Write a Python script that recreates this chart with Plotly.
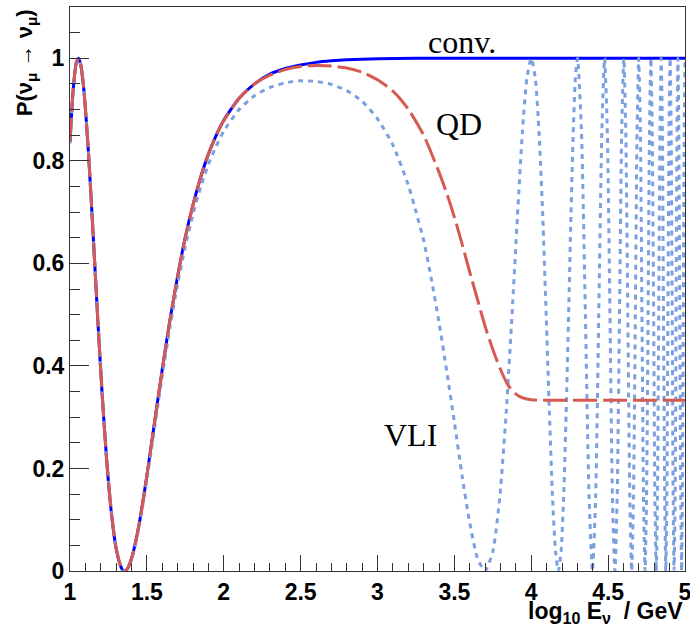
import plotly.graph_objects as go

# ---------------- data ----------------
conv_x = [1.00, 1.02, 1.04, 1.055, 1.07, 1.09, 1.12, 1.15, 1.18, 1.21, 1.24, 1.27,
          1.30, 1.33, 1.343, 1.355, 1.367, 1.38, 1.41, 1.45, 1.50, 1.55, 1.60, 1.65,
          1.70, 1.75, 1.80, 1.85, 1.90, 1.95, 2.00, 2.10, 2.20, 2.30, 2.40, 2.50,
          2.60, 2.70, 2.80, 2.90, 3.00, 3.25, 3.50, 4.00, 4.50, 5.00]
conv_y = [0.837, 0.936, 0.990, 1.000, 0.987, 0.939, 0.816, 0.659, 0.494, 0.340, 0.210, 0.111,
          0.044, 0.009, 0.002, 0.000, 0.002, 0.008, 0.035, 0.092, 0.186, 0.290, 0.393, 0.489,
          0.575, 0.651, 0.714, 0.768, 0.813, 0.849, 0.879, 0.922, 0.950, 0.969, 0.980, 0.987,
          0.992, 0.995, 0.997, 0.998, 0.999, 1.000, 1.000, 1.000, 1.000, 1.000]

qd_x = [1.00, 1.02, 1.04, 1.055, 1.07, 1.09, 1.12, 1.15, 1.18, 1.21, 1.24, 1.27,
        1.30, 1.33, 1.343, 1.355, 1.367, 1.38, 1.41, 1.45, 1.50, 1.55, 1.60, 1.65,
        1.70, 1.75, 1.80, 1.85, 1.90, 1.95, 2.00, 2.10, 2.20, 2.30, 2.40, 2.50,
        2.60, 2.70, 2.80, 2.90, 3.00, 3.10, 3.20, 3.30, 3.40, 3.45, 3.50, 3.55,
        3.60, 3.65, 3.70, 3.75, 3.80, 3.85, 3.90, 3.95, 4.00, 4.10, 4.50, 5.00]
qd_y = [0.837, 0.936, 0.990, 1.000, 0.987, 0.939, 0.816, 0.659, 0.494, 0.340, 0.210, 0.111,
        0.044, 0.009, 0.002, 0.000, 0.002, 0.008, 0.035, 0.092, 0.186, 0.290, 0.393, 0.489,
        0.575, 0.651, 0.714, 0.768, 0.813, 0.849, 0.878, 0.922, 0.950, 0.967, 0.978, 0.984,
        0.986, 0.985, 0.981, 0.973, 0.958, 0.936, 0.901, 0.850, 0.778, 0.737, 0.690, 0.638,
        0.583, 0.530, 0.477, 0.432, 0.393, 0.362, 0.345, 0.337, 0.334, 0.333, 0.333, 0.333]

vli_x = [1.00, 1.02, 1.04, 1.055, 1.07, 1.09, 1.12, 1.15, 1.18, 1.21, 1.24, 1.27,
         1.30, 1.33, 1.343, 1.355, 1.367, 1.38, 1.41, 1.45, 1.50, 1.55, 1.60, 1.65,
         1.70, 1.75, 1.80, 1.85, 1.90, 1.95, 2.00, 2.10, 2.20, 2.30, 2.40, 2.50,
         2.60, 2.70, 2.80, 2.90, 3.00, 3.10, 3.20, 3.25, 3.30, 3.35, 3.40, 3.45,
         3.50, 3.55, 3.60, 3.65,
         3.699, 3.750, 3.796, 3.837, 3.875, 3.910, 3.942, 3.972, 4.000, 4.026, 4.051, 4.075,
         4.097, 4.118, 4.138, 4.158, 4.176, 4.194, 4.211, 4.227, 4.243, 4.258, 4.273, 4.287,
         4.301, 4.327, 4.352, 4.376, 4.398, 4.419, 4.439, 4.459, 4.477, 4.495, 4.512, 4.528,
         4.544, 4.559, 4.574, 4.588, 4.602, 4.615, 4.628, 4.641, 4.653, 4.665, 4.677, 4.688,
         4.699, 4.710, 4.720, 4.730, 4.740, 4.750, 4.760, 4.769, 4.778, 4.787, 4.796, 4.804,
         4.813, 4.821, 4.829, 4.837, 4.845, 4.853, 4.860, 4.868, 4.875, 4.882, 4.889, 4.896,
         4.903, 4.910, 4.917, 4.923, 4.929, 4.936, 4.942, 4.948, 4.954, 4.960, 4.966, 4.972,
         4.978, 4.983, 4.989, 4.995, 5.000]
vli_y = [0.834, 0.934, 0.989, 1.000, 0.988, 0.941, 0.820, 0.663, 0.499, 0.345, 0.215, 0.115,
         0.047, 0.010, 0.002, 0.000, 0.002, 0.006, 0.032, 0.087, 0.178, 0.279, 0.380, 0.475,
         0.560, 0.633, 0.696, 0.749, 0.793, 0.828, 0.858, 0.900, 0.927, 0.943, 0.952, 0.956,
         0.955, 0.949, 0.937, 0.916, 0.882, 0.831, 0.753, 0.701, 0.645, 0.570, 0.485, 0.390,
         0.290, 0.186, 0.094, 0.025,
         0.000, 0.038, 0.146, 0.309, 0.500, 0.691, 0.854, 0.962, 1.000, 0.962, 0.854, 0.691,
         0.500, 0.309, 0.146, 0.038, 0.000, 0.038, 0.146, 0.309, 0.500, 0.691, 0.854, 0.962,
         1.000, 0.854, 0.500, 0.146, 0.000, 0.146, 0.500, 0.854, 1.000, 0.854, 0.500, 0.146,
         0.000, 0.146, 0.500, 0.854, 1.000, 0.854, 0.500, 0.146, 0.000, 0.146, 0.500, 0.854,
         1.000, 0.854, 0.500, 0.146, 0.000, 0.146, 0.500, 0.854, 1.000, 0.854, 0.500, 0.146,
         0.000, 0.146, 0.500, 0.854, 1.000, 0.854, 0.500, 0.146, 0.000, 0.146, 0.500, 0.854,
         1.000, 0.854, 0.500, 0.146, 0.000, 0.146, 0.500, 0.854, 1.000, 0.854, 0.500, 0.146,
         0.000, 0.146, 0.500, 0.854, 1.000]

curve_labels = ["conv.", "QD", "VLI"]
y_title = "P(ν<sub>μ</sub> → ν<sub>μ</sub>)"
x_title = ("log<sub><span style='font-size:16px'>10</span></sub>\u00a0"
           "E<sub>ν</sub>\u00a0\u00a0/\u00a0GeV")

# ---------------- figure ----------------
fig = go.Figure()
fig.add_trace(go.Scatter(x=conv_x, y=conv_y, mode="lines", name=curve_labels[0],
                         line=dict(color="#0000ff", width=3, shape="spline", smoothing=0.6)))
fig.add_trace(go.Scatter(x=vli_x, y=vli_y, mode="lines", name=curve_labels[2],
                         line=dict(color="#7b9fdf", width=3, dash="5px,5px",
                                   shape="spline", smoothing=0.6)))
fig.add_trace(go.Scatter(x=qd_x, y=qd_y, mode="lines", name=curve_labels[1],
                         line=dict(color="#d65a52", width=3, dash="24px,6px",
                                   shape="spline", smoothing=0.6)))

tickfont = dict(family="Liberation Sans", size=23, color="black", weight="bold")
axcol = "#333333"

fig.update_layout(
    width=690, height=633, autosize=False,
    margin=dict(l=70, r=5, t=7, b=62, autoexpand=False),
    paper_bgcolor="white", plot_bgcolor="white",
    showlegend=False,
    xaxis=dict(range=[1, 5], showline=True, linecolor=axcol, linewidth=1, mirror=True,
               ticks="inside", ticklen=16, tickwidth=1, tickcolor=axcol,
               tick0=1, dtick=0.5, showgrid=False, zeroline=False, tickfont=tickfont,
               ticklabeloverflow="allow", automargin=False,
               minor=dict(ticks="inside", ticklen=8, dtick=0.1, tickcolor=axcol,
                          showgrid=False)),
    yaxis=dict(range=[0, 1.1], showline=True, linecolor=axcol, linewidth=1, mirror=True,
               ticks="inside", ticklen=19, tickwidth=1, tickcolor=axcol,
               tick0=0, dtick=0.2, showgrid=False, zeroline=False, tickfont=tickfont,
               ticklabeloverflow="allow", automargin=False,
               minor=dict(ticks="inside", ticklen=10, dtick=0.05, tickcolor=axcol,
                          showgrid=False)),
)

serif = dict(family="Liberation Serif", size=32, color="black")
fig.add_annotation(x=3.547, y=1.032, xref="x", yref="y", text=curve_labels[0],
                   showarrow=False, font=serif)
fig.add_annotation(x=3.528, y=0.872, xref="x", yref="y", text=curve_labels[1],
                   showarrow=False, font=serif)
fig.add_annotation(x=3.215, y=0.266, xref="x", yref="y", text=curve_labels[2],
                   showarrow=False, font=serif)

fig.add_annotation(x=-0.072, y=1.0, xref="paper", yref="paper", text=y_title,
                   textangle=-90, xanchor="center", yanchor="top", showarrow=False,
                   font=dict(family="Liberation Sans", size=22, color="black", weight="bold"))
fig.add_annotation(x=1.0, y=-0.045, xref="paper", yref="paper", text=x_title,
                   xanchor="right", yanchor="top", showarrow=False,
                   font=dict(family="Liberation Sans", size=23, color="black", weight="bold"))

fig.write_html("out.html",
               config={"displayModeBar": False},
               post_script="document.body.style.margin='0px';"
                           "document.body.style.overflow='hidden';")
